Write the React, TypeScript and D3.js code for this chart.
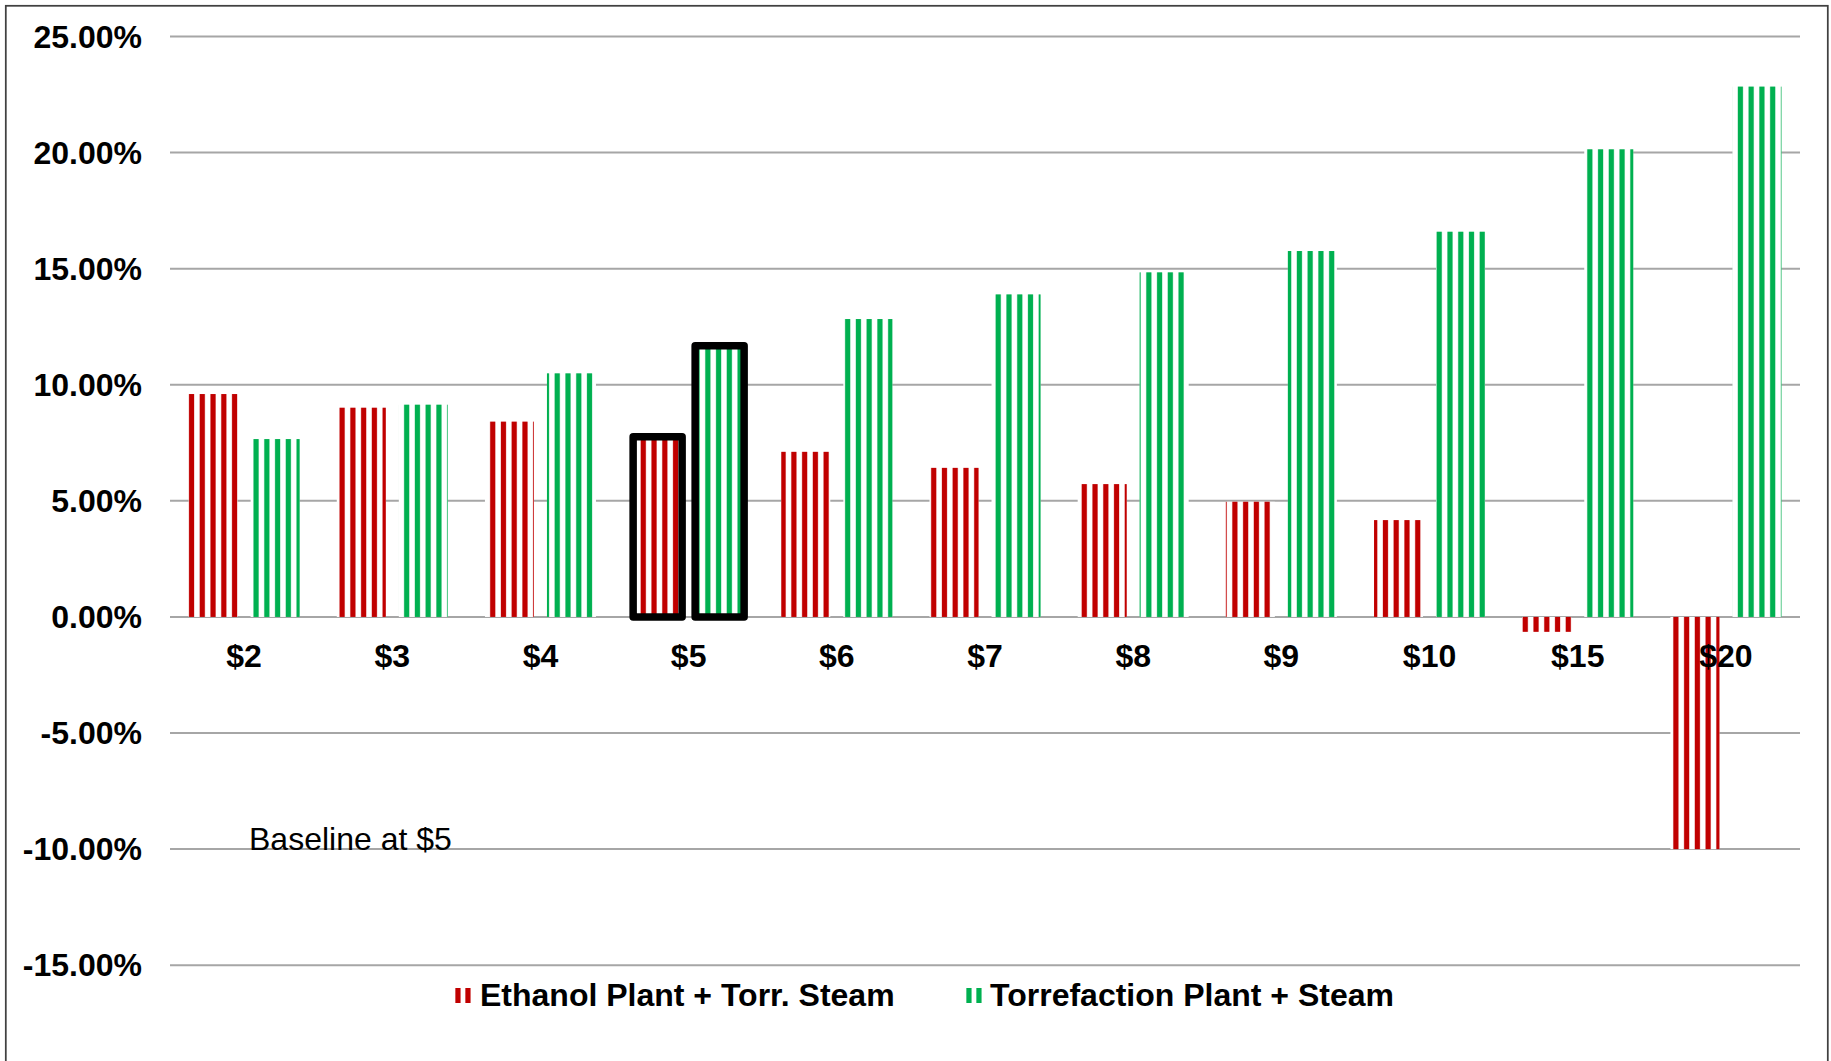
import React from "react";
import * as d3 from "d3";

const categories = ["$2", "$3", "$4", "$5", "$6", "$7", "$8", "$9", "$10", "$15", "$20"];
const seriesNames = ["Ethanol Plant + Torr. Steam", "Torrefaction Plant + Steam"];
const ethanolValues = [9.6, 9.01, 8.41, 7.76, 7.11, 6.42, 5.72, 4.96, 4.17, -0.64, -10.0];
const torrefactionValues = [7.66, 9.14, 10.49, 11.68, 12.83, 13.89, 14.84, 15.76, 16.59, 20.14, 22.84];
const seriesColors = ["#C00000", "#00B050"];
const yTicks = [25, 20, 15, 10, 5, 0, -5, -10, -15];
const highlightCategory = "$5";
const annotationText = "Baseline at $5";

const FONT = "'Liberation Sans', Arial, Helvetica, sans-serif";

type Seg = { x: number; w: number; solid: boolean };

function stripeSegments(x: number, w: number, origin: number, period: number): Seg[] {
  const out: Seg[] = [];
  const k0 = Math.floor((x - origin) / period) - 1;
  const k1 = Math.ceil((x + w - origin) / period) + 1;
  d3.range(k0, k1 + 1).forEach((k) => {
    const sx = origin + k * period;
    const parts = [
      { a: sx, b: sx + 5.9, solid: false },
      { a: sx + 0.5, b: sx + 5.4, solid: true },
    ];
    parts.forEach((p) => {
      const a = Math.max(p.a, x);
      const b = Math.min(p.b, x + w);
      if (b > a) out.push({ x: a, w: b - a, solid: p.solid });
    });
  });
  return out;
}

export default function App() {
  const W = 1831;
  const H = 1061;
  const plotLeft = 170;
  const plotRight = 1800;

  const x0 = d3.scaleBand<string>().domain(categories).range([plotLeft, plotRight]).paddingInner(0).paddingOuter(0);
  const x1 = d3.scaleBand<string>().domain(seriesNames).range([-55.5, 55.5]).paddingInner(0.21);
  const y = d3.scaleLinear().domain([-15, 25]).range([965.2, 36.5]);

  const seriesValues = [ethanolValues, torrefactionValues];
  const stripePeriod = 10.756;
  const patternOrigin = (x0(categories[0]) as number) + x0.bandwidth() / 2 + (x1(seriesNames[0]) as number);

  const bars: any[] = [];
  seriesNames.forEach((s, si) => {
    categories.forEach((c, ci) => {
      const v = seriesValues[si][ci];
      const bx = (x0(c) as number) + x0.bandwidth() / 2 + (x1(s) as number);
      const yTop = y(Math.max(0, v));
      const yBot = y(Math.min(0, v));
      bars.push({ key: `${si}-${ci}`, si, c, x: bx, y: yTop, w: x1.bandwidth(), h: yBot - yTop });
    });
  });

  const legendItems = [
    { name: seriesNames[0], mx: 455, tx: 480 },
    { name: seriesNames[1], mx: 966, tx: 990 },
  ];

  return (
    <div style={{ position: "absolute", left: 0, top: 0, width: W, height: H, overflow: "hidden", background: "#fff" }}>
      <svg width={W} height={H} style={{ display: "block" }}>
        <rect x={0} y={0} width={W} height={H} fill="#ffffff" />
        <rect x={5.8} y={5.8} width={1822} height={1100} fill="none" stroke="#404040" strokeWidth={1.75} />

        {yTicks.map((t) => (
          <g key={t}>
            <line x1={plotLeft} x2={plotRight} y1={y(t)} y2={y(t)} stroke="#A6A6A6" strokeWidth={2} />
            <text
              x={142}
              y={y(t) + 11}
              textAnchor="end"
              fontFamily={FONT}
              fontWeight="bold"
              fontSize={32}
              fill="#000"
            >
              {t.toFixed(2) + "%"}
            </text>
          </g>
        ))}

        {bars.map((b) => (
          <g key={b.key}>
            <rect x={b.x} y={b.y} width={b.w} height={b.h} fill="#ffffff" />
            {stripeSegments(b.x, b.w, patternOrigin, stripePeriod).map((s, i) => (
              <rect
                key={i}
                x={s.x}
                y={b.y}
                width={s.w}
                height={b.h}
                fill={seriesColors[b.si]}
                opacity={s.solid ? 1 : 0.3}
              />
            ))}
          </g>
        ))}

        {bars
          .filter((b) => b.c === highlightCategory)
          .map((b) => (
            <rect
              key={"hl-" + b.key}
              x={b.x}
              y={b.y}
              width={b.w}
              height={b.h}
              fill="none"
              stroke="#000"
              strokeWidth={7.5}
              strokeLinejoin="round"
            />
          ))}

        {categories.map((c) => (
          <text
            key={c}
            x={(x0(c) as number) + x0.bandwidth() / 2}
            y={y(0) + 50}
            textAnchor="middle"
            fontFamily={FONT}
            fontWeight="bold"
            fontSize={32}
            fill="#000"
          >
            {c}
          </text>
        ))}

        <text x={249} y={850} fontFamily={FONT} fontSize={32} fill="#000">
          {annotationText}
        </text>

        {legendItems.map((l, i) => (
          <g key={l.name}>
            {stripeSegments(l.mx, 16, l.mx, 10).map((s, j) => (
              <rect
                key={j}
                x={s.x}
                y={988}
                width={s.w}
                height={15}
                fill={seriesColors[i]}
                opacity={s.solid ? 1 : 0.3}
              />
            ))}
            <text x={l.tx} y={1006} fontFamily={FONT} fontWeight="bold" fontSize={32} fill="#000">
              {l.name}
            </text>
          </g>
        ))}
      </svg>
    </div>
  );
}
